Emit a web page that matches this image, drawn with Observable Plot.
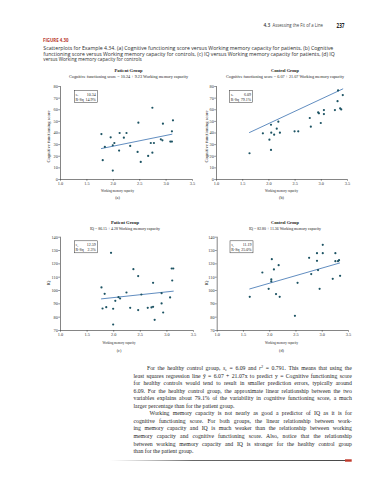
<!DOCTYPE html>
<html><head><meta charset="utf-8">
<script src="https://cdn.jsdelivr.net/npm/d3@7"></script>
<script src="https://cdn.jsdelivr.net/npm/@observablehq/plot@0.6"></script>
<style>
html,body{margin:0;padding:0;background:#fff;}
#page{position:relative;width:371px;height:480px;overflow:hidden;background:#fff;}
#page svg{position:absolute;}
</style></head>
<body><div id="page"></div>
<script>
// ---------- data ----------
const xTicks = [1.0, 1.5, 2.0, 2.5, 3.0, 3.5];
const cogTicks = [0, 10, 20, 30, 40, 50, 60, 70, 80];
const iqTicks = [70, 80, 90, 100, 110, 120, 130, 140];

// (a) patients: working memory vs cognitive functioning
const wmA  = [1.775,1.80,1.84,1.95,1.99,2.02,1.99,2.12,2.11,2.25,2.20,2.32,2.475,2.46,2.52,2.66,2.71,2.74,2.74,2.77,2.90,2.93,2.94,3.08,3.11,3.11,3.13];
const cogA = [39.1,16.6,28.0,36.3,29.4,31.4,7.7,40.0,24.9,40.0,36.0,28.9,48.9,23.7,15.1,20.3,31.4,61.7,23.1,31.4,34.6,33.7,48.0,32.6,32.6,41.4,50.9];
// (b) controls: working memory vs cognitive functioning
const wmB  = [1.63,1.885,2.01,2.04,2.045,2.04,2.10,2.15,2.18,2.21,2.49,2.56,2.78,2.80,2.94,2.955,2.99,3.05,3.05,3.26,3.31,3.32,3.36,3.38,3.41];
const cogB = [22.6,39.7,34.3,47.1,40.3,25.4,38.6,43.7,49.7,40.3,41.4,41.4,52.9,45.4,57.7,56.9,48.6,59.7,56.3,59.7,67.4,76.6,61.1,60.3,72.6];
// (c) patients: working memory vs IQ
const wmC  = [1.77,1.95,1.83,1.79,1.86,1.99,2.03,2.09,2.12,1.99,2.24,2.31,2.37,2.46,2.46,2.52,2.64,2.71,2.74,2.74,2.77,2.90,2.90,2.93,3.06,3.09,3.12,3.10];
const iqC  = [102.3,128.3,97.5,86.5,87.5,86.3,92.3,95.0,94.0,74.5,98.5,87.0,116.0,110.8,85.3,97.0,87.0,87.3,87.8,105.8,78.0,98.0,90.3,83.5,94.8,116.5,116.5,107.5];
// (d) controls: working memory vs IQ
const wmD  = [1.62,1.86,1.98,2.03,2.03,2.04,2.08,2.12,2.17,2.19,2.53,2.48,2.75,2.79,2.90,2.90,2.92,2.95,3.01,3.01,3.20,3.25,3.25,3.30,3.32,3.34];
const iqD  = [95.3,113.5,101.3,108.3,106.8,123.5,115.8,97.3,119.0,95.3,105.8,81.0,124.5,112.3,128.0,122.3,115.3,101.3,134.3,128.0,108.8,128.0,122.0,122.0,122.8,111.0];

// regression equations shown in the panel titles
const fitA = {b0: 10.24, b1: 9.23,  from: 1.775, to: 3.11};
const fitB = {b0: 6.07,  b1: 21.07, from: 1.63,  to: 3.41};
const fitC = {b0: 86.15, b1: 4.28,  from: 1.77,  to: 3.12};
const fitD = {b0: 82.80, b1: 11.36, from: 1.62,  to: 3.33};

const statA = ["10.34", "14.9%"];
const statB = ["6.09", "79.1%"];
const statC = ["12.59", "2.3%"];
const statD = ["11.19", "25.0%"];

const captionLines = [
  "Scatterplots for Example 4.34. (a) Cognitive functioning score versus Working memory capacity for patients, (b) Cognitive",
  "functioning score versus Working memory capacity for controls, (c) IQ versus Working memory capacity for patients, (d) IQ",
  "versus Working memory capacity for controls"
];
const paraLines = [
  "least squares regression line ŷ = 6.07 + 21.07x to predict y = Cognitive functioning score",
  "for healthy controls would tend to result in smaller prediction errors, typically around",
  "6.09. For the healthy control group, the approximate linear relationship between the two",
  "variables explains about 79.1% of the variability in cognitive functioning score, a much",
  "larger percentage than for the patient group.",
  "Working memory capacity is not nearly as good a predictor of IQ as it is for",
  "cognitive functioning score. For both groups, the linear relationship between work-",
  "ing memory capacity and IQ is much weaker than the relationship between working",
  "memory capacity and cognitive functioning score. Also, notice that the relationship",
  "between working memory capacity and IQ is stronger for the healthy control group",
  "than for the patient group."
];

// ---------- page text overlay ----------
const page = document.getElementById("page");
const SERIF = "'Liberation Serif','DejaVu Serif',serif";
const SANS = "'Open Sans','Liberation Sans',sans-serif";
const ov = d3.select(page).append("svg").attr("width", 371).attr("height", 480)
  .style("left", "0px").style("top", "0px");

function txt(x, y, s, o = {}) {
  const t = ov.append("text").attr("x", x).attr("y", y).text(s)
    .attr("font-family", o.family || SERIF)
    .attr("font-size", o.size || 5)
    .attr("fill", o.fill || "#222")
    .attr("text-anchor", o.anchor || "start");
  if (o.weight) t.attr("font-weight", o.weight);
  if (o.italic) t.attr("font-style", "italic");
  if (o.len) t.attr("textLength", o.len).attr("lengthAdjust", o.adjust || "spacingAndGlyphs");
  return t;
}
// justify a line by widening the word spaces
function justify(t, width) {
  const node = t.node();
  const nat = node.getComputedTextLength();
  const spaces = (node.textContent.match(/ /g) || []).length;
  if (spaces > 0 && nat < width) t.attr("word-spacing", (width - nat) / spaces);
  else if (nat > width) t.attr("textLength", width).attr("lengthAdjust", "spacingAndGlyphs");
}

// running header
txt(270.2, 27, "4.3", {family: SANS, size: 4.8, weight: 600, fill: "#333", anchor: "end"});
txt(272.5, 27, "Assessing the Fit of a Line", {family: SANS, size: 4.6, fill: "#444", len: 50.5});
txt(336.5, 28, "237", {family: SANS, size: 6.5, weight: 700, fill: "#222", len: 8});

// figure label + caption
txt(43, 42.2, "FIGURE 4.30", {family: SANS, size: 6, weight: 700, fill: "#b8372c", len: 25.5});
const capY = [50.1, 55.8, 61.3];
const capLen = [290, 291.5, 98.5];
captionLines.forEach((l, i) => txt(43.3, capY[i], l, {family: SANS, size: 5.1, fill: "#2b2b2b", len: capLen[i], weight: 500}));

// panel titles
const titles = [
  {cx: 128.5, y: 70.3, t: "Patient Group", eq: "Cognitive functioning score = 10.24 + 9.23 Working memory capacity", ey: 76.7, ew: 119},
  {cx: 285, y: 70.3, t: "Control Group", eq: "Cognitive functioning score = 6.07 + 21.07 Working memory capacity", ey: 76.7, ew: 118},
  {cx: 125, y: 221.8, t: "Patient Group", eq: "IQ = 86.15 + 4.28 Working memory capacity", ey: 228.4, ew: 70},
  {cx: 285, y: 221.8, t: "Control Group", eq: "IQ = 82.80 + 11.36 Working memory capacity", ey: 228.4, ew: 72}
];
titles.forEach(d => {
  txt(d.cx, d.y + 1.7, d.t, {size: 4.8, weight: 700, anchor: "middle", len: 28});
  txt(d.cx, d.ey + 1.5, d.eq, {size: 4.2, anchor: "middle", len: d.ew});
});

// axis titles and panel letters
const axT = [
  {x: 117.5, y: 190.8, ly: 197.5, l: "(a)", yx: 48.3, yy: 136.5, yt: "Cognitive functioning score", yl: 52},
  {x: 281.5, y: 190.8, ly: 197.5, l: "(b)", yx: 206, yy: 136.5, yt: "Cognitive functioning score", yl: 52},
  {x: 119, y: 342.8, ly: 350.5, l: "(c)", yx: 48, yy: 283, yt: "IQ", yl: 5},
  {x: 281.5, y: 342.8, ly: 350.5, l: "(d)", yx: 206, yy: 283, yt: "IQ", yl: 5}
];
axT.forEach(d => {
  txt(d.x, d.y + 1.5, "Working memory capacity", {size: 4.4, anchor: "middle", len: 33});
  txt(d.x, d.ly + 1.4, d.l, {size: 4.2, anchor: "middle"});
  txt(0, 0, d.yt, {size: 4.4, anchor: "middle", len: d.yl})
    .attr("transform", `translate(${d.yx + 1.5},${d.yy}) rotate(-90)`);
});

// s_e / R-Sq boxes
const boxes = [
  {x: 74.3, y: 90.7, v: statA}, {x: 229.5, y: 90.7, v: statB},
  {x: 74.3, y: 240.8, v: statC}, {x: 230, y: 240.8, v: statD}
];
boxes.forEach(b => {
  ov.append("rect").attr("x", b.x).attr("y", b.y).attr("width", 23).attr("height", 12)
    .attr("fill", "white").attr("stroke", "#333").attr("stroke-width", 0.5);
  const s = txt(b.x + 1.3, b.y + 4.8, "s", {size: 4, italic: true});
  s.append("tspan").attr("font-size", 2.8).attr("dy", 0.9).attr("font-style", "normal").text("e");
  txt(b.x + 21.5, b.y + 4.8, b.v[0], {size: 4, anchor: "end"});
  txt(b.x + 1.3, b.y + 10, "R-Sq", {size: 4});
  txt(b.x + 21.5, b.y + 10, b.v[1], {size: 4, anchor: "end"});
});

// body paragraph
const PS = 5.75, L0 = 133.5, R0 = 351.8, IND = 147, B0 = 370.2, LH = 7.53;
{
  const t = txt(IND, B0, "", {size: PS, fill: "#1e1e1e"});
  t.append("tspan").text("For the healthy control group, ");
  t.append("tspan").attr("font-style", "italic").text("s");
  t.append("tspan").attr("font-size", PS * 0.65).attr("dy", 1.1).text("e");
  t.append("tspan").attr("dy", -1.1).text(" = 6.09 and ");
  t.append("tspan").attr("font-style", "italic").text("r");
  t.append("tspan").attr("font-size", PS * 0.65).attr("dy", -1.9).text("2");
  t.append("tspan").attr("dy", 1.9).text(" = 0.791. This means that using the");
  justify(t, R0 - IND);
}
paraLines.forEach((l, i) => {
  const y = B0 + LH * (i + 1);
  const x = i === 5 ? 149.5 : L0;
  const t = txt(x, y, l, {size: PS, fill: "#1e1e1e"});
  if (i !== 4 && i !== 10) justify(t, R0 - x);
});

// bottom rule
const g = ov.append("defs").append("linearGradient").attr("id", "fade");
g.append("stop").attr("offset", "0").attr("stop-color", "#777").attr("stop-opacity", 0);
g.append("stop").attr("offset", "0.35").attr("stop-color", "#444").attr("stop-opacity", 0.9);
g.append("stop").attr("offset", "1").attr("stop-color", "#333").attr("stop-opacity", 1);
ov.append("rect").attr("x", 110).attr("y", 460).attr("width", 236).attr("height", 0.9).attr("fill", "url(#fade)");
ov.append("rect").attr("x", 345).attr("y", 459.3).attr("width", 6.7).attr("height", 2.4).attr("fill", "#c0392b");

// ---------- scatter panels (Observable Plot) ----------
function panel(o) {
  const data = o.xs.map((x, i) => ({x, y: o.ys[i]}));
  const fit = [o.fit.from, o.fit.to].map(x => ({x, y: o.fit.b0 + o.fit.b1 * x}));
  const chart = Plot.plot({
    width: o.W, height: o.H,
    marginLeft: o.x0 - o.left, marginRight: o.left + o.W - o.x1,
    marginTop: o.yTop - o.top, marginBottom: o.top + o.H - o.yBot,
    x: {domain: [1, 3.5]},
    y: {domain: [o.yTicks[0], o.yTicks[o.yTicks.length - 1]]},
    style: {background: "transparent", fontFamily: SERIF, fontSize: "4.3px", color: "#333", overflow: "visible"},
    marks: [
      Plot.ruleY([o.yTicks[0]], {stroke: "#333", strokeWidth: 0.6}),
      Plot.ruleX([1], {stroke: "#333", strokeWidth: 0.6}),
      Plot.axisX({ticks: xTicks, tickFormat: d3.format(".1f"), tickSize: 1.8, tickPadding: 1, label: null, strokeWidth: 0.5}),
      Plot.axisY({ticks: o.yTicks, tickSize: 1.8, tickPadding: 0.8, label: null, strokeWidth: 0.5}),
      Plot.line(fit, {x: "x", y: "y", stroke: "#4f80b9", strokeWidth: 0.9}),
      Plot.dot(data, {x: "x", y: "y", r: 1.1, fill: "#1c5363", stroke: "none"})
    ]
  });
  chart.style.position = "absolute";
  chart.style.left = o.left + "px";
  chart.style.top = o.top + "px";
  chart.style.maxWidth = "none";
  page.appendChild(chart);
}

panel({left: 0,   top: 80,  W: 200, H: 110, x0: 60,    x1: 192, yTop: 86,    yBot: 179, yTicks: cogTicks, xs: wmA, ys: cogA, fit: fitA});
panel({left: 190, top: 80,  W: 175, H: 110, x0: 216,   x1: 347, yTop: 86,    yBot: 179, yTicks: cogTicks, xs: wmB, ys: cogB, fit: fitB});
panel({left: 0,   top: 230, W: 200, H: 110, x0: 60,    x1: 193, yTop: 236.7, yBot: 330, yTicks: iqTicks,  xs: wmC, ys: iqC,  fit: fitC});
panel({left: 190, top: 230, W: 175, H: 110, x0: 216.7, x1: 348, yTop: 236.7, yBot: 330, yTicks: iqTicks,  xs: wmD, ys: iqD,  fit: fitD});
</script>
</body></html>
